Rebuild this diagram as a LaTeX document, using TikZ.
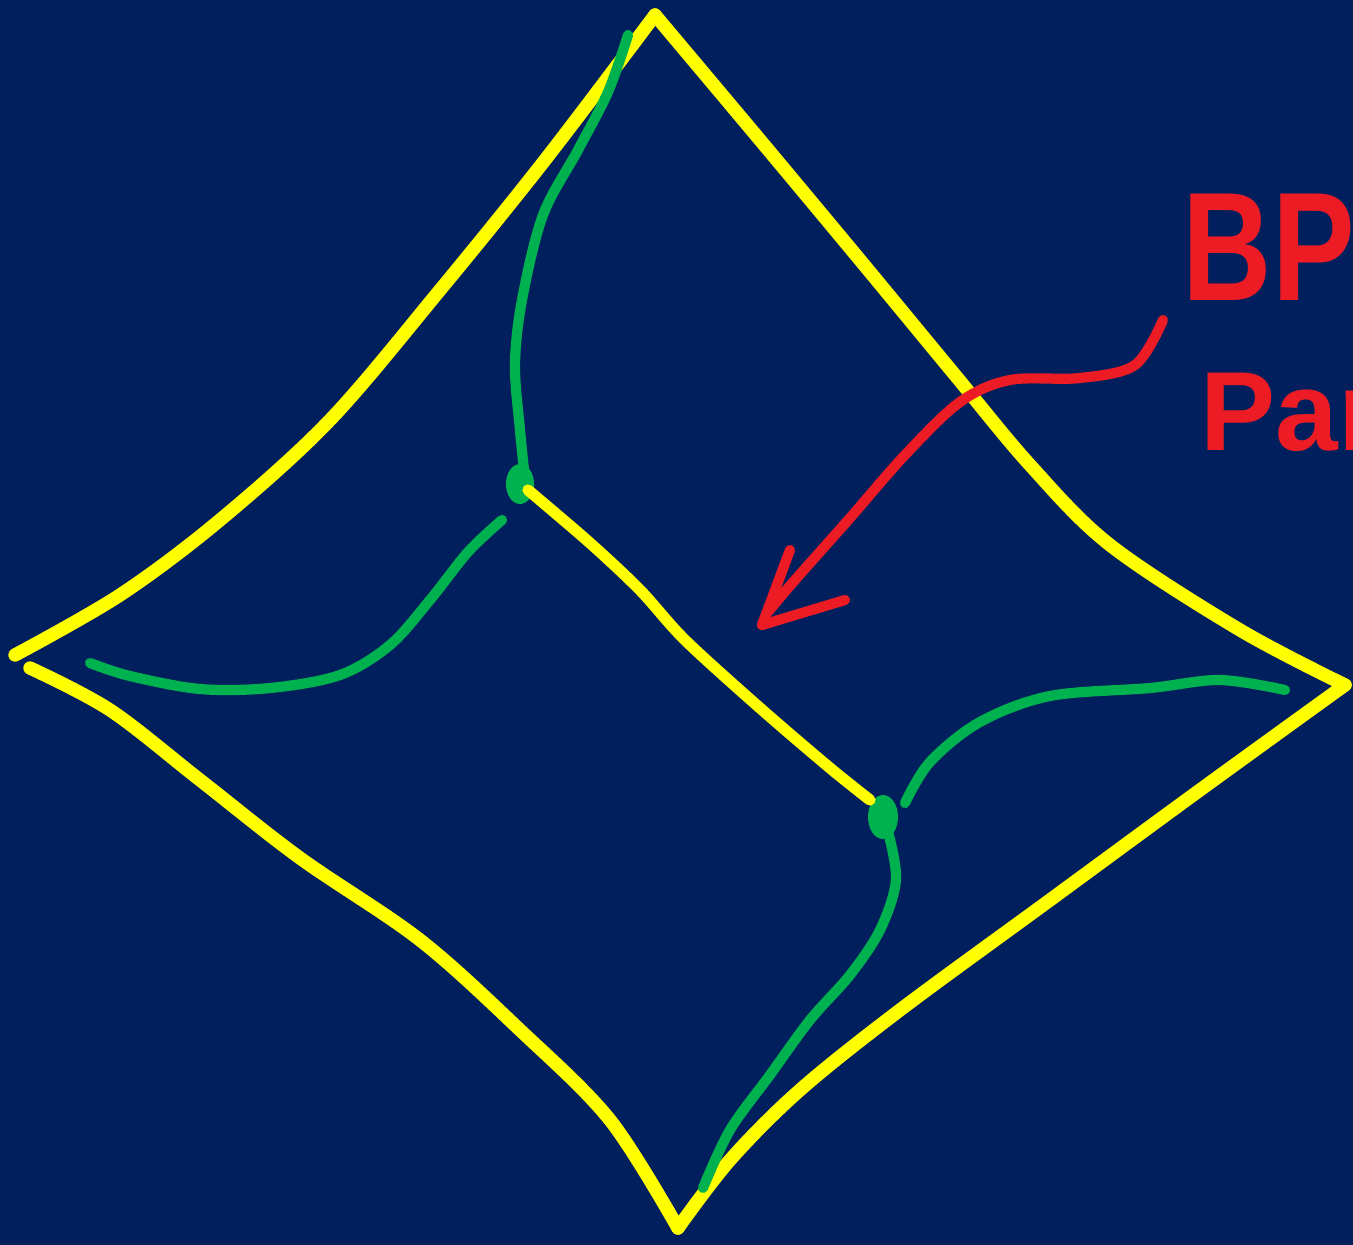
\documentclass[tikz,border=0pt]{standalone}
\usepackage{fontspec}
\usepackage{graphicx}
\setmainfont{Liberation Sans}
\begin{document}
\begin{tikzpicture}[x=0.01cm,y=-0.01cm,
  yelline/.style={draw=ylw,line width=3.8pt,line cap=round,line join=round},
  grnline/.style={draw=grn,line width=2.9pt,line cap=round},
  redline/.style={draw=rd,line width=2.9pt,line cap=round,line join=round},
  lbl/.style={text=rd,font=\fontsize{44}{48}\selectfont\bfseries,inner sep=0pt,anchor=base west}]
\definecolor{bg}{HTML}{001F5C}
\definecolor{ylw}{HTML}{FFFF00}
\definecolor{grn}{HTML}{00B14F}
\definecolor{rd}{HTML}{ED1C24}
\fill[bg] (0,0) rectangle (1353,1245);
\useasboundingbox (0,0) rectangle (1353,1245);
\clip (0,0) rectangle (1353,1245);
% outline
\draw[yelline] plot[smooth,tension=0.55] coordinates {(15,655) (120,595) (220,520) (330,420) (440,290) (545,160) (655,15)};
\draw[yelline] plot[smooth,tension=0.55] coordinates {(655,15) (760,140) (860,260) (955,375) (1030,465) (1110,545) (1240,630) (1345,685)};
\draw[yelline] plot[smooth,tension=0.55] coordinates {(30,668) (110,710) (200,780) (300,858) (420,940) (520,1030) (610,1120) (678,1228)};
\draw[yelline] plot[smooth,tension=0.55] coordinates {(678,1228) (730,1160) (800,1090) (900,1010) (1050,900) (1200,790) (1345,685)};
% inner
\coordinate (n1) at (520,484);
\coordinate (n2) at (883,817);
\fill[grn] (n1) ellipse [x radius=14,y radius=20];
\fill[grn] (n2) ellipse [x radius=15,y radius=22];
\draw[yelline,line width=3.2pt] plot[smooth,tension=0.5] coordinates {(528,490) (590,543) (640,590) (685,640) (760,708) (830,768) (870,800)};
% green
\draw[grnline] plot[smooth,tension=0.55] coordinates {(628,35) (608,92) (578,150) (543,215) (522,300) (515,365) (520,430) (524,470)};
\draw[grnline] plot[smooth,tension=0.55] coordinates {(502,520) (468,552) (430,600) (390,645) (340,675) (270,688) (200,689) (130,676) (90,663)};
\draw[grnline] plot[smooth,tension=0.55] coordinates {(905,803) (930,762) (980,722) (1050,696) (1150,688) (1220,680) (1285,690)};
\draw[grnline] plot[smooth,tension=0.55] coordinates {(888,832) (896,880) (880,930) (850,975) (810,1020) (770,1075) (730,1130) (703,1188)};
% red arrow
\draw[redline] plot[smooth,tension=0.55] coordinates {(1163,320) (1135,365) (1080,378) (1010,380) (960,402) (905,455) (850,518) (795,580) (768,612)};
\draw[redline] (790,550) -- (762,625) -- (845,600);
% labels
\node[lbl] (bp) at (1182,300) {\scalebox{0.8}[1]{BP}};
\node[lbl,font=\fontsize{32}{36}\selectfont\bfseries] (par) at (1200,450) {Par};
\end{tikzpicture}
\end{document}
